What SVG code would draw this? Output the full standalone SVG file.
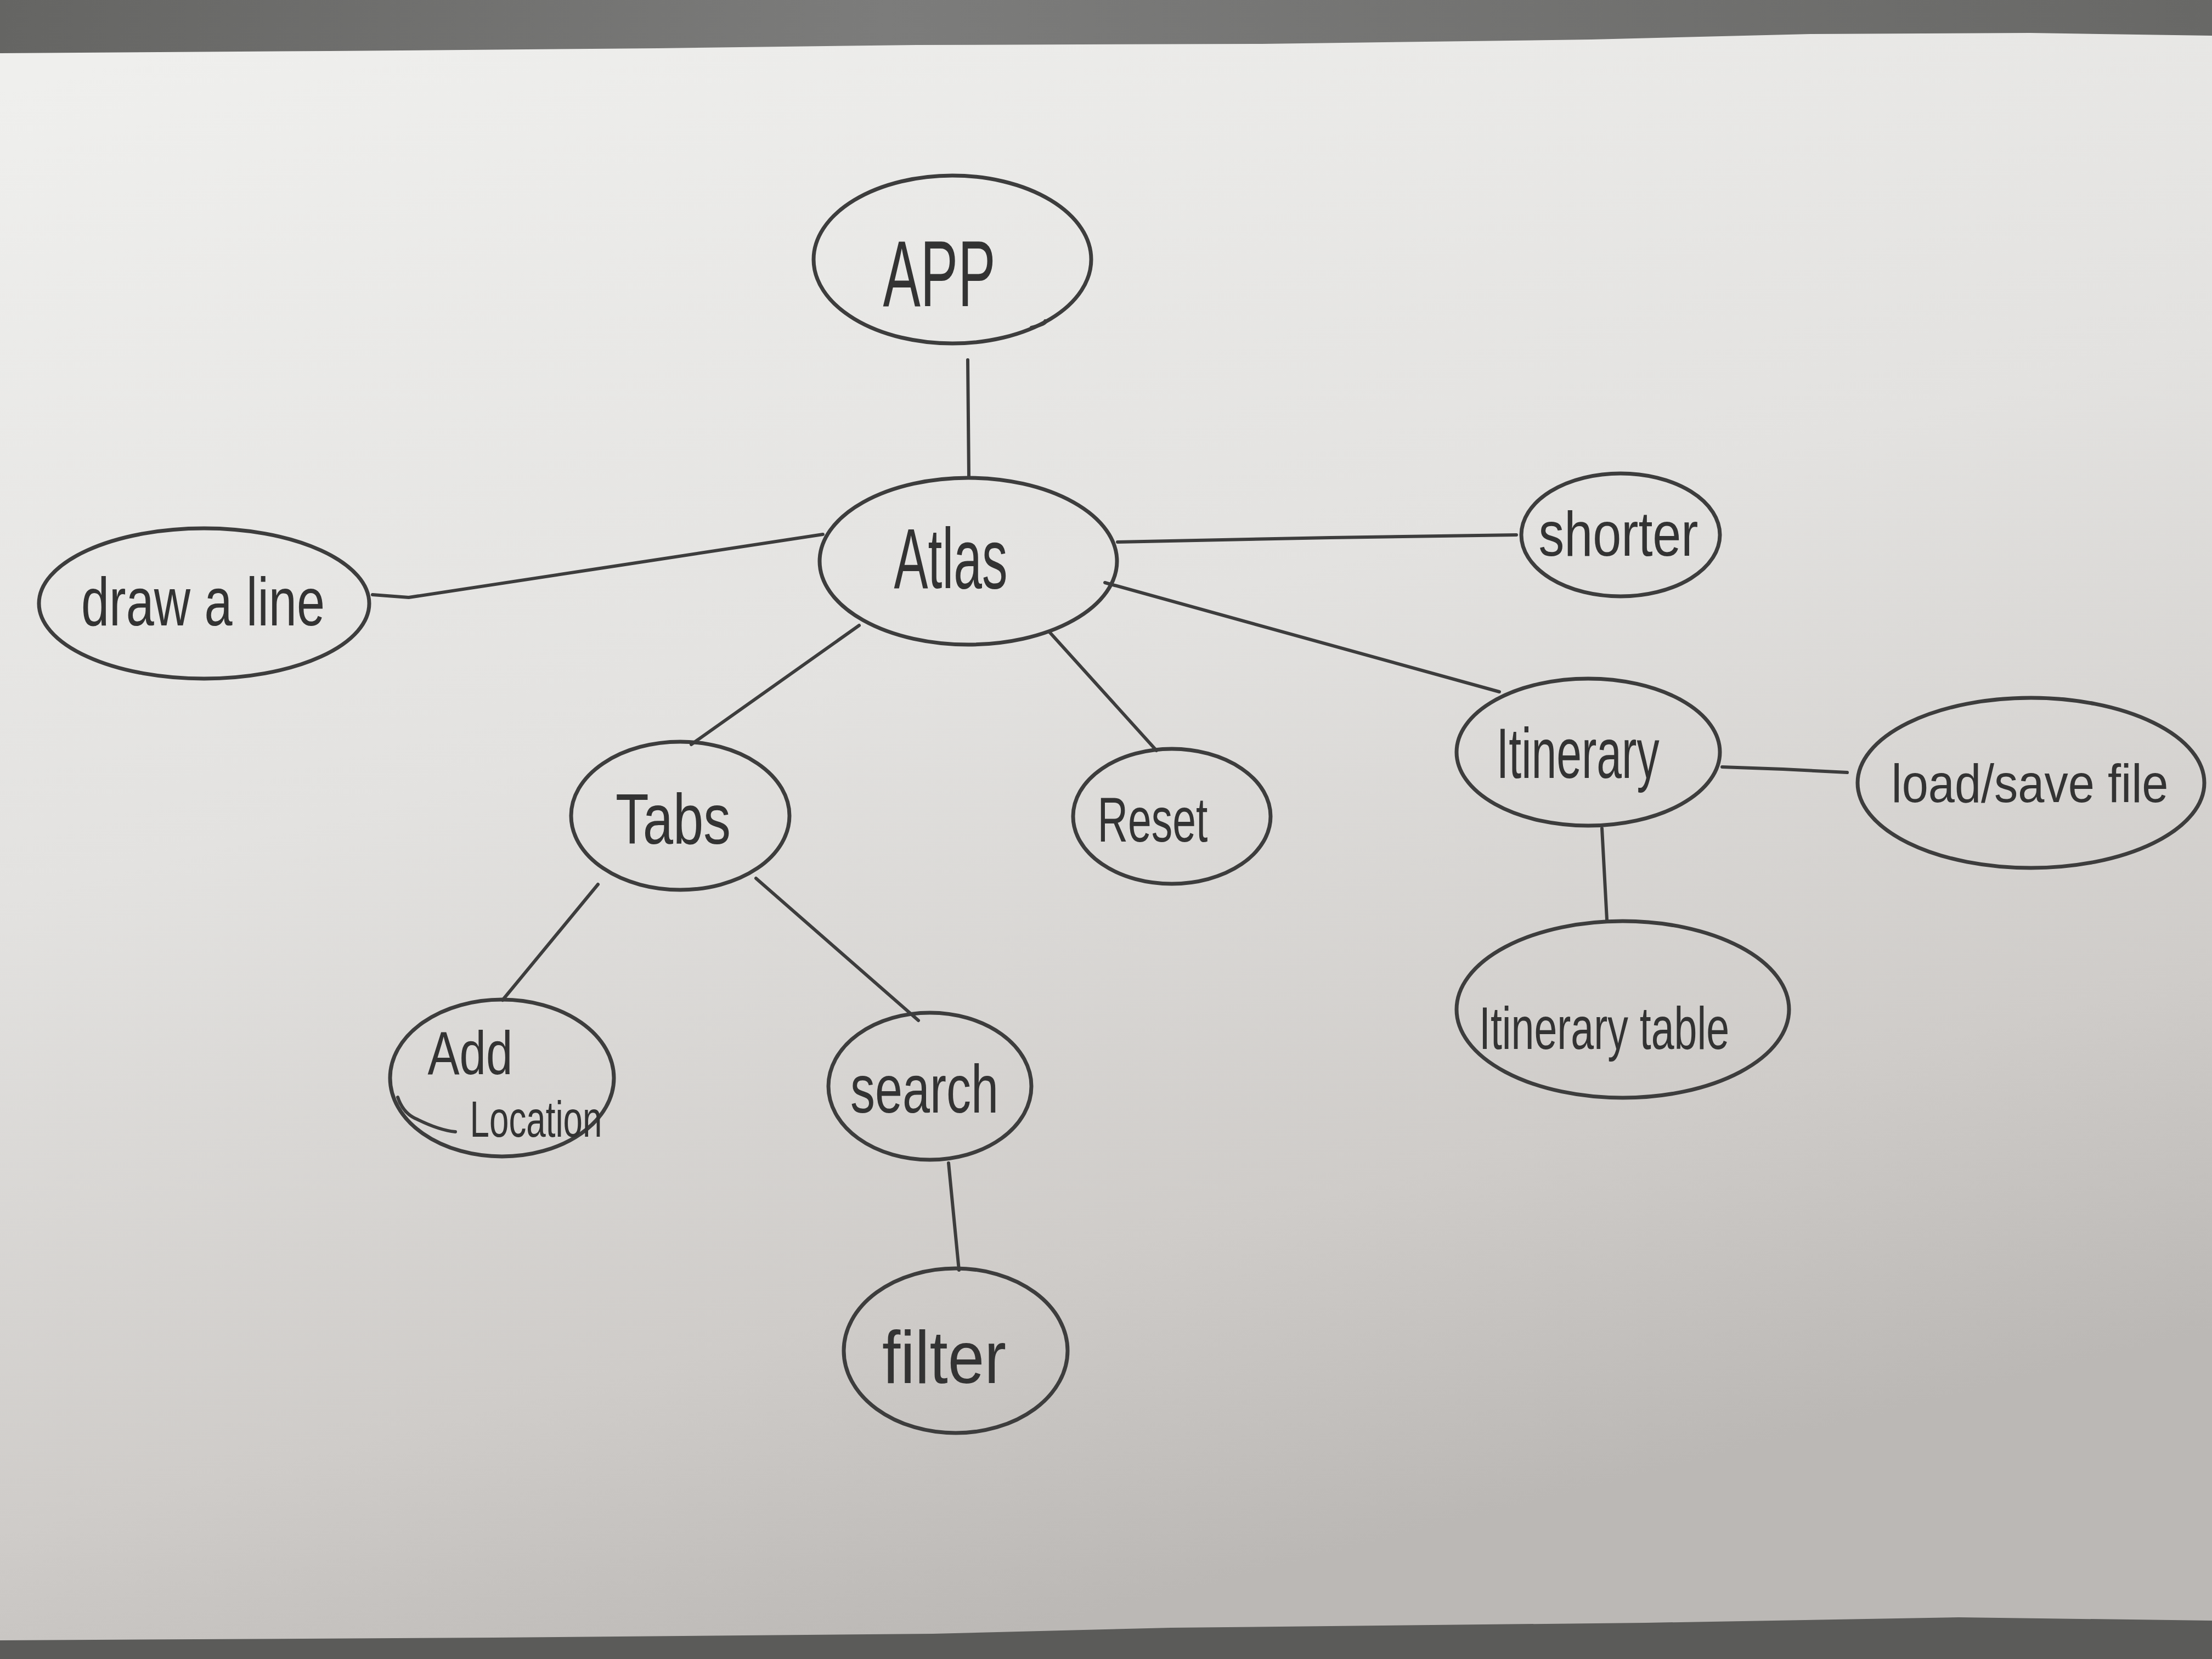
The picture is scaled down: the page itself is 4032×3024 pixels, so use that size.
<svg xmlns="http://www.w3.org/2000/svg" width="4032" height="3024" viewBox="0 0 4032 3024">
<defs>
<linearGradient id="paper" x1="0.1" y1="0" x2="0.45" y2="1">
<stop offset="0" stop-color="#efefed"/>
<stop offset="0.45" stop-color="#e3e2e0"/>
<stop offset="0.8" stop-color="#cfccc9"/>
<stop offset="1" stop-color="#bbb8b5"/>
</linearGradient>
<linearGradient id="desk" x1="0" y1="0" x2="1" y2="0">
<stop offset="0" stop-color="#656563"/>
<stop offset="0.4" stop-color="#7c7c7b"/>
<stop offset="1" stop-color="#686866"/>
</linearGradient>
<style>
.node ellipse{fill:none;stroke:#3d3d3d;stroke-width:7}
.node path{fill:none;stroke:#3d3d3d;stroke-width:6;stroke-linecap:round}
#connectors polyline,#connectors line{fill:none;stroke:#3d3d3d;stroke-width:6;stroke-linecap:round;stroke-linejoin:round}
text{font-family:"Liberation Sans","DejaVu Sans",sans-serif;fill:#333333;text-anchor:middle}
</style>
</defs>
<rect x="0" y="0" width="4032" height="3024" fill="url(#desk)"/>
<rect x="0" y="2900" width="4032" height="124" fill="#5b5b59"/>
<path d="M0 97 L600 93 L1200 88 L1671 82 L2300 80 L2900 72 L3300 62 L3700 60 L4032 65 L4032 2954 L3570 2948 L3000 2958 L2134 2967 L1700 2978 L900 2985 L0 2990 Z" fill="url(#paper)"/>

<g id="connectors">
<line x1="1764" y1="656" x2="1766" y2="868"/>
<polyline points="679,1084 745,1089 1100,1035 1500,974"/>
<polyline points="2037,988 2425,980 2764,975"/>
<line x1="2014" y1="1062" x2="2733" y2="1261"/>
<line x1="1566" y1="1140" x2="1260" y2="1357"/>
<line x1="1912" y1="1151" x2="2108" y2="1368"/>
<line x1="1090" y1="1612" x2="916" y2="1823"/>
<line x1="1378" y1="1601" x2="1674" y2="1860"/>
<line x1="1729" y1="2120" x2="1748" y2="2315"/>
<polyline points="3139,1398 3250,1402 3367,1408"/>
<line x1="2920" y1="1510" x2="2929" y2="1676"/>
</g>

<g id="node-app" class="node">
<ellipse cx="1736" cy="473" rx="253" ry="153"/>
<path d="M1880 597 Q1910 590 1905 585"/>
<text x="1712" y="558" font-size="170" textLength="205" lengthAdjust="spacingAndGlyphs">APP</text>
</g>

<g id="node-atlas" class="node">
<ellipse cx="1765" cy="1023" rx="271" ry="152"/>
<text x="1733" y="1072" font-size="155" textLength="207" lengthAdjust="spacingAndGlyphs">Atlas</text>
</g>

<g id="node-draw" class="node">
<ellipse cx="372" cy="1100" rx="301" ry="137"/>
<text x="370" y="1140" font-size="125" textLength="444" lengthAdjust="spacingAndGlyphs">draw  a line</text>
</g>

<g id="node-shorter" class="node">
<ellipse cx="2954" cy="975" rx="181" ry="112"/>
<text x="2950" y="1013" font-size="115" textLength="291" lengthAdjust="spacingAndGlyphs">shorter</text>
</g>

<g id="node-tabs" class="node">
<ellipse cx="1240" cy="1487" rx="199" ry="135"/>
<text x="1227" y="1538" font-size="130" textLength="210" lengthAdjust="spacingAndGlyphs">Tabs</text>
</g>

<g id="node-reset" class="node">
<ellipse cx="2136" cy="1488" rx="180" ry="123"/>
<text x="2101" y="1534" font-size="115" textLength="201" lengthAdjust="spacingAndGlyphs">Reset</text>
</g>

<g id="node-itinerary" class="node">
<ellipse cx="2895" cy="1371" rx="240" ry="134"/>
<text x="2876" y="1418" font-size="130" textLength="297" lengthAdjust="spacingAndGlyphs">Itinerary</text>
</g>

<g id="node-loadsave" class="node">
<ellipse cx="3702" cy="1427" rx="316" ry="155"/>
<text x="3700" y="1462" font-size="98" textLength="505" lengthAdjust="spacingAndGlyphs">load/save file</text>
</g>

<g id="node-itinerary-table" class="node">
<ellipse cx="2958" cy="1840" rx="303" ry="161"/>
<text x="2924" y="1912" font-size="110" textLength="456" lengthAdjust="spacingAndGlyphs">Itinerary table</text>
</g>

<g id="node-add-location" class="node">
<ellipse cx="915" cy="1965" rx="204" ry="143"/>
<path d="M725 2000 Q735 2030 760 2040 Q800 2060 830 2063"/>
<text x="857" y="1958" font-size="112" textLength="155" lengthAdjust="spacingAndGlyphs">Add</text>
<text x="977" y="2072" font-size="92" textLength="241" lengthAdjust="spacingAndGlyphs">Location</text>
</g>

<g id="node-search" class="node">
<ellipse cx="1695" cy="1980" rx="185" ry="134"/>
<text x="1685" y="2028" font-size="125" textLength="270" lengthAdjust="spacingAndGlyphs">search</text>
</g>

<g id="node-filter" class="node">
<ellipse cx="1742" cy="2462" rx="204" ry="150"/>
<text x="1721" y="2521" font-size="135" textLength="226" lengthAdjust="spacingAndGlyphs">filter</text>
</g>
</svg>
